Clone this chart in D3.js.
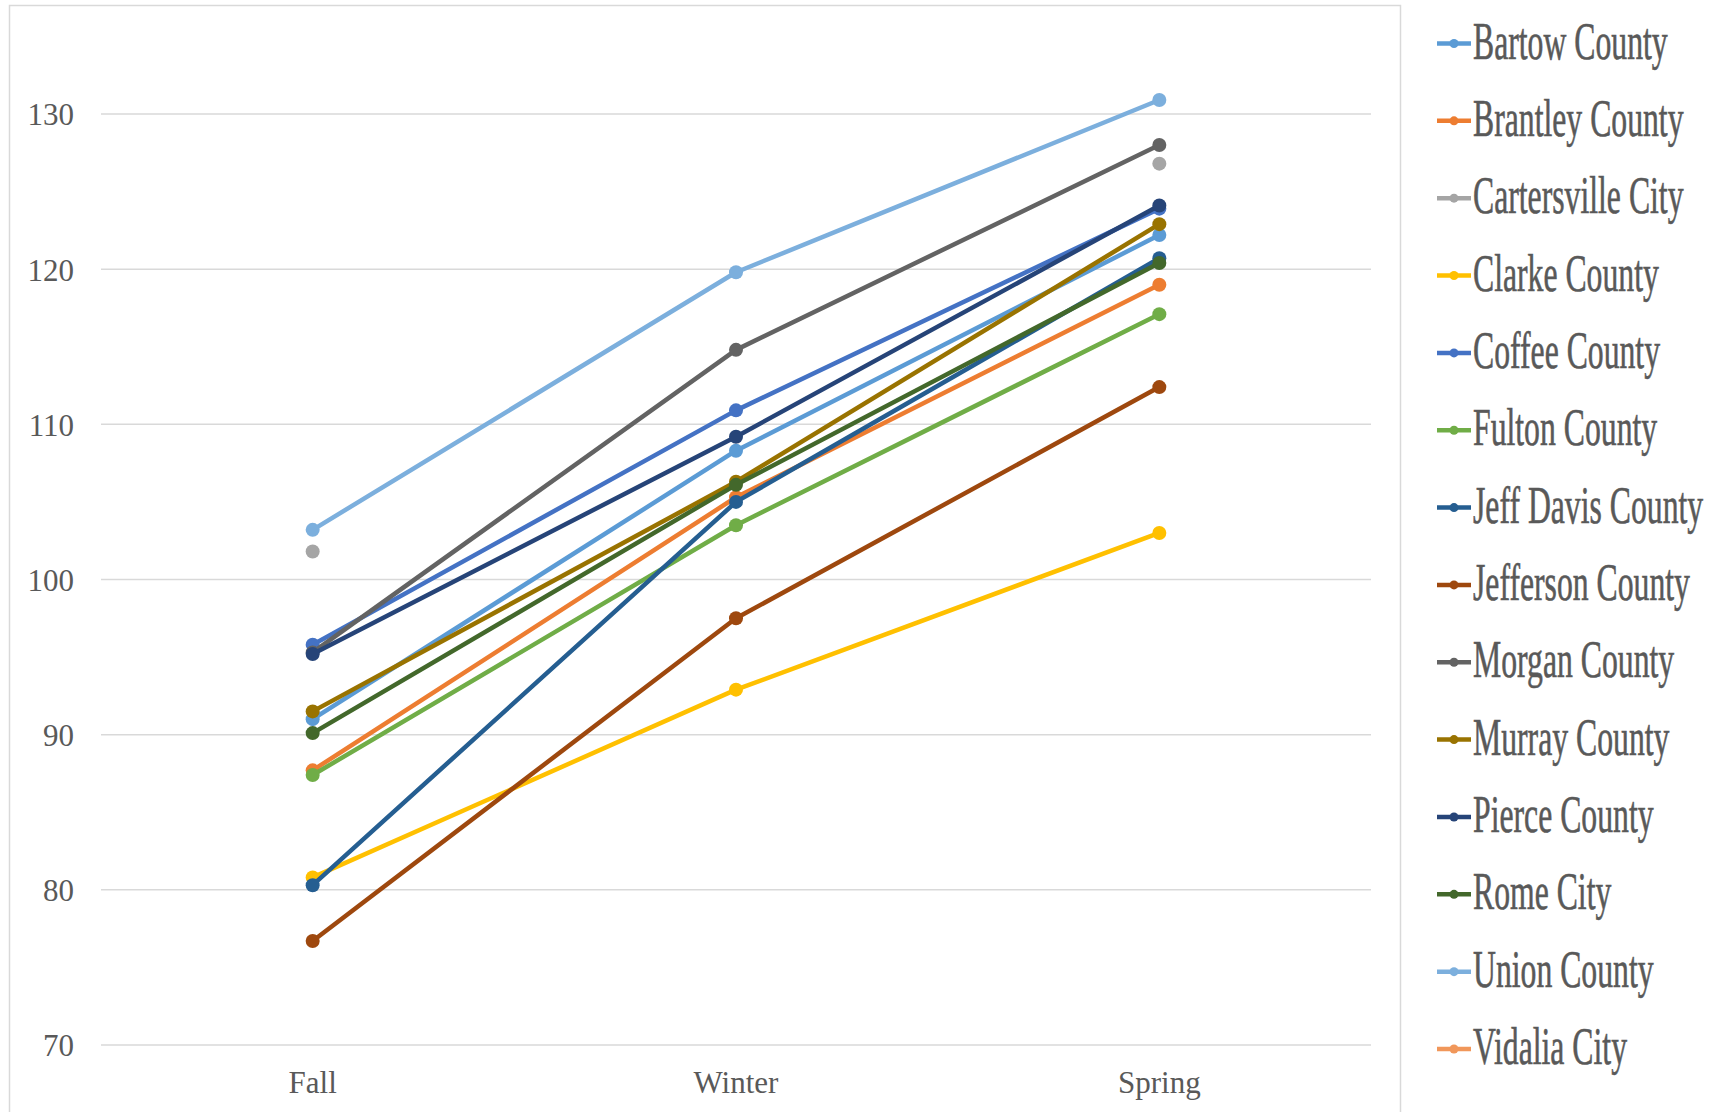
<!DOCTYPE html>
<html>
<head>
<meta charset="utf-8">
<script src="https://cdn.jsdelivr.net/npm/d3@7"></script>
<style>
  html, body { margin: 0; padding: 0; background: #ffffff; }
  svg { display: block; }
</style>
</head>
<body>
<svg id="chart" width="1718" height="1112"></svg>
<script>
const seasons = ["Fall", "Winter", "Spring"];
const yTicks = [70, 80, 90, 100, 110, 120, 130];

const seriesNames = [
  "Bartow County", "Brantley County", "Cartersville City", "Clarke County",
  "Coffee County", "Fulton County", "Jeff Davis County", "Jefferson County",
  "Morgan County", "Murray County", "Pierce County", "Rome City",
  "Union County", "Vidalia City"
];
const seriesColors = [
  "#5b9bd5", "#ed7d31", "#a5a5a5", "#ffc000",
  "#4472c4", "#70ad47", "#255e91", "#9e480e",
  "#636363", "#997300", "#264478", "#43682b",
  "#7cafdd", "#f1975a"
];

const bartow       = [91.0, 108.3, 122.2];
const brantley     = [87.7, 105.3, 119.0];
const cartersville = [101.8, null, 126.8];
const clarke       = [80.8, 92.9, 103.0];
const coffee       = [95.8, 110.9, 123.9];
const fulton       = [87.4, 103.5, 117.1];
const jeffDavis    = [80.3, 105.0, 120.7];
const jefferson    = [76.7, 97.5, 112.4];
const morgan       = [95.3, 114.8, 128.0];
const murray       = [91.5, 106.3, 122.9];
const pierce       = [95.2, 109.2, 124.1];
const rome         = [90.1, 106.1, 120.4];
const union        = [103.2, 119.8, 130.9];
const vidalia      = [null, null, null];

const seriesValues = [bartow, brantley, cartersville, clarke, coffee, fulton,
  jeffDavis, jefferson, morgan, murray, pierce, rome, union, vidalia];

const svg = d3.select("#chart");
const plotLeft = 101, plotRight = 1371, plotTop = 114, plotBottom = 1045;

// frame
svg.append("path")
  .attr("d", `M9.5,1112 L9.5,5.5 L1400.5,5.5 L1400.5,1112`)
  .attr("fill", "none").attr("stroke", "#d9d9d9").attr("stroke-width", 1.5);

const x = d3.scaleBand().domain(seasons).range([plotLeft, plotRight]);
const y = d3.scaleLinear().domain([70, 130]).range([plotBottom, plotTop]);
const cx = s => x(s) + x.bandwidth() / 2;

// gridlines
svg.append("g").selectAll("line").data(yTicks).join("line")
  .attr("x1", plotLeft).attr("x2", plotRight)
  .attr("y1", d => y(d)).attr("y2", d => y(d))
  .attr("stroke", "#d9d9d9").attr("stroke-width", 1.5);

// y axis labels
const yAxis = d3.axisLeft(y).tickValues(yTicks).tickSize(0).tickPadding(0);
const gy = svg.append("g").attr("transform", "translate(74,0)").call(yAxis);
gy.select(".domain").remove();
gy.selectAll("text")
  .attr("font-family", "'Liberation Serif', 'Times New Roman', serif")
  .attr("font-size", 31).attr("fill", "#595959").attr("dy", "0.35em");

// x axis labels
const xAxis = d3.axisBottom(x).tickSize(0).tickPadding(0);
const gx = svg.append("g").attr("transform", "translate(0,1068)").call(xAxis);
gx.select(".domain").remove();
gx.selectAll("text")
  .attr("font-family", "'Liberation Serif', 'Times New Roman', serif")
  .attr("font-size", 31).attr("fill", "#595959").attr("dy", "0.8em");

// lines
const line = d3.line()
  .defined(d => d.v !== null)
  .x(d => cx(d.s))
  .y(d => y(d.v));

seriesValues.forEach((vals, i) => {
  const pts = seasons.map((s, j) => ({ s: s, v: vals[j] }));
  const g = svg.append("g");
  g.append("path").datum(pts)
    .attr("d", line)
    .attr("fill", "none")
    .attr("stroke", seriesColors[i])
    .attr("stroke-width", 4.5)
    .attr("stroke-linejoin", "round")
    .attr("stroke-linecap", "round");
  g.selectAll("circle").data(pts.filter(p => p.v !== null)).join("circle")
    .attr("cx", d => cx(d.s)).attr("cy", d => y(d.v)).attr("r", 7)
    .attr("fill", seriesColors[i]);
});

// legend
const legY = d3.scalePoint().domain(seriesNames).range([43.5, 1049]);
const leg = svg.append("g");
seriesNames.forEach((name, i) => {
  const yy = legY(name);
  leg.append("line")
    .attr("x1", 1437).attr("x2", 1471).attr("y1", yy).attr("y2", yy)
    .attr("stroke", seriesColors[i]).attr("stroke-width", 4.5);
  leg.append("circle").attr("cx", 1454).attr("cy", yy).attr("r", 4.5)
    .attr("fill", seriesColors[i]);
  leg.append("text")
    .attr("transform", `translate(1473,${yy + 15}) scale(0.61,1)`)
    .attr("font-family", "'Liberation Serif', 'Times New Roman', serif")
    .attr("font-size", 52)
    .attr("fill", "#595959")
    .attr("stroke", "#595959").attr("stroke-width", 0.6)
    .text(name);
});
</script>
</body>
</html>
